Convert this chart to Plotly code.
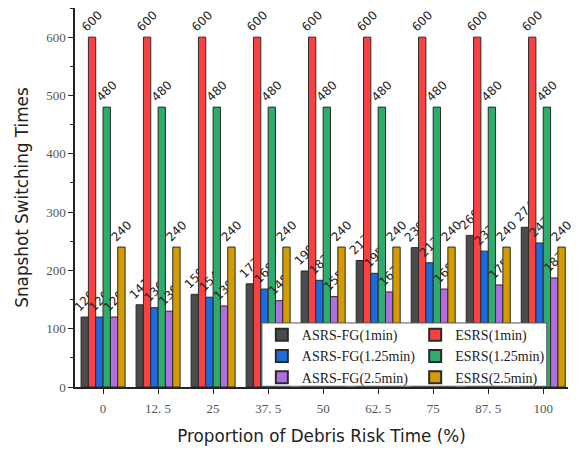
import plotly.graph_objects as go

categories = ["0", "12. 5", "25", "37. 5", "50", "62. 5", "75", "87. 5", "100"]
asrs_1 = [120, 141, 159, 177, 199, 217, 239, 260, 274]
esrs_1 = [600, 600, 600, 600, 600, 600, 600, 600, 600]
asrs_125 = [120, 136, 154, 168, 183, 195, 213, 233, 247]
esrs_125 = [480, 480, 480, 480, 480, 480, 480, 480, 480]
asrs_25 = [120, 130, 139, 148, 155, 163, 168, 175, 187]
esrs_25 = [240, 240, 240, 240, 240, 240, 240, 240, 240]

series = [
    ("ASRS-FG(1min)", asrs_1, "#4b4b4b", "legend"),
    ("ESRS(1min)", esrs_1, "#f84242", "legend2"),
    ("ASRS-FG(1.25min)", asrs_125, "#1c6ce0", "legend"),
    ("ESRS(1.25min)", esrs_125, "#2fab6b", "legend2"),
    ("ASRS-FG(2.5min)", asrs_25, "#b06ee0", "legend"),
    ("ESRS(2.5min)", esrs_25, "#d49c00", "legend2"),
]

fig = go.Figure()
for name, vals, col, lg in series:
    fig.add_trace(go.Bar(
        name=name, x=categories, y=vals, legend=lg,
        marker=dict(color=col, line=dict(color="#2a2a2a", width=1)),
        text=[str(v) for v in vals], textposition="outside", textangle=-45,
        textfont=dict(family="DejaVu Sans", size=12, color="#222222"),
        cliponaxis=False, constraintext="none",
    ))

legend_common = dict(
    orientation="v", yanchor="top", xanchor="left",
    bgcolor="rgba(0,0,0,0)", borderwidth=0,
    font=dict(family="Liberation Serif", size=14, color="#222222"),
    tracegroupgap=0, itemsizing="constant",
)

fig.update_layout(
    width=571, height=442,
    margin=dict(l=67, r=11, t=0, b=63, autoexpand=False),
    paper_bgcolor="white", plot_bgcolor="white",
    barmode="group", bargap=0.2, bargroupgap=0,
    legend=dict(x=0.379, y=0.179, **legend_common),
    legend2=dict(x=0.69, y=0.179, **legend_common),
    shapes=[dict(type="rect", xref="paper", yref="paper",
                 x0=0.379, x1=0.957, y0=0.002, y1=0.169,
                 fillcolor="white", line=dict(color="#555555", width=1),
                 layer="above")],
    xaxis=dict(
        type="category", range=[-0.51, 8.45], automargin=False,
        showline=True, linecolor="#222222", linewidth=1.5,
        ticks="outside", ticklen=5, tickcolor="#222222",
        ticklabelstandoff=4,
        tickfont=dict(family="Liberation Serif", size=13, color="#555555"),
        minor=dict(ticks="outside", ticklen=3, tickcolor="#222222"),
        showgrid=False,
        title=dict(text="Proportion of Debris Risk Time (%)",
                   font=dict(family="DejaVu Sans", size=16.8, color="#222222"), standoff=15),
    ),
    yaxis=dict(
        range=[0, 650], dtick=100, automargin=False,
        showline=True, linecolor="#222222", linewidth=1.5,
        ticks="outside", ticklen=5, tickcolor="#222222",
        tickfont=dict(family="Liberation Serif", size=13, color="#555555"),
        minor=dict(ticks="outside", ticklen=3, dtick=50, tickcolor="#222222"),
        showgrid=False, zeroline=False,
        title=dict(text="Snapshot Switching Times",
                   font=dict(family="DejaVu Sans", size=16.8, color="#222222"), standoff=13),
    ),
)

fig.write_html("out.html")
